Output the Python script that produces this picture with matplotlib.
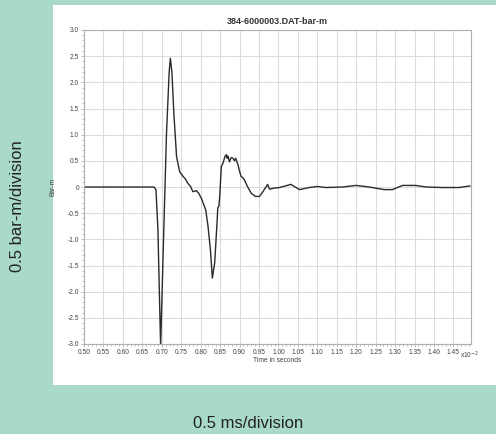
import numpy as np
import matplotlib.pyplot as plt
from matplotlib.patches import Rectangle
from matplotlib.ticker import MultipleLocator, FuncFormatter

plt.rcParams['font.family'] = ['Liberation Sans', 'DejaVu Sans']

# time in units of 1e-2 s, pressure in bar-m
t = [0.50, 0.60, 0.68, 0.685, 0.690, 0.697, 0.703, 0.712, 0.719, 0.722, 0.726, 0.731,
     0.738, 0.746, 0.755, 0.761, 0.767, 0.774, 0.780, 0.789, 0.795, 0.802, 0.813,
     0.819, 0.825, 0.830, 0.836, 0.842, 0.844, 0.847, 0.849, 0.853, 0.857, 0.860,
     0.862, 0.866, 0.868, 0.870, 0.874, 0.878, 0.883, 0.887, 0.890, 0.896, 0.900,
     0.904, 0.908, 0.913, 0.917, 0.921, 0.930, 0.941, 0.951, 0.960, 0.965, 0.968,
     0.972, 0.977, 0.990, 1.003, 1.032, 1.054, 1.079, 1.100, 1.122, 1.165, 1.199,
     1.233, 1.272, 1.293, 1.319, 1.353, 1.379, 1.421, 1.464, 1.492]
p = [0.0, 0.0, 0.0, -0.05, -0.8, -3.05, -1.4, 1.0, 2.2, 2.46, 2.2, 1.41,
     0.58, 0.29, 0.20, 0.15, 0.07, 0.01, -0.09, -0.07, -0.12, -0.22, -0.44,
     -0.76, -1.20, -1.74, -1.45, -0.69, -0.40, -0.36, -0.18, 0.39, 0.45, 0.52,
     0.58, 0.62, 0.55, 0.59, 0.48, 0.56, 0.55, 0.50, 0.55, 0.42, 0.30,
     0.20, 0.18, 0.13, 0.06, 0.0, -0.12, -0.18, -0.18, -0.09, -0.03, 0.0,
     0.05, -0.04, -0.02, -0.01, 0.05, -0.05, -0.01, 0.01, -0.01, 0.0, 0.03,
     0.0, -0.05, -0.05, 0.03, 0.03, 0.0, -0.01, -0.01, 0.02]

title = "384-6000003.DAT-bar-m"
bg = "#a9d9c8"

fig = plt.figure(figsize=(4.96, 4.34), dpi=100, facecolor=bg)
# white panel behind the chart
panel = fig.add_axes([53 / 496, 49 / 434, 1 - 53 / 496, 380 / 434], zorder=-10)
panel.set_axis_off()
panel.add_patch(Rectangle((0, 0), 1, 1, transform=panel.transAxes,
                          facecolor="white", edgecolor="none"))

ax = fig.add_axes([84 / 496, 90 / 434, 387 / 496, 314 / 434])
ax.plot(t, p, color="#2a2a2a", lw=1.0)
ax.set_xlim(0.50, 1.495)
ax.set_ylim(-3.0, 3.0)
ax.set_xticks(np.arange(0.50, 1.46, 0.05))
ax.set_yticks(np.arange(-3.0, 3.01, 0.5))
ax.xaxis.set_minor_locator(MultipleLocator(0.01))
ax.yaxis.set_minor_locator(MultipleLocator(0.1))
ax.xaxis.set_major_formatter(FuncFormatter(lambda v, _: f"{v:.2f}"))
ax.yaxis.set_major_formatter(FuncFormatter(lambda v, _: "0" if abs(v) < 1e-9 else f"{v:.1f}"))
ax.grid(True, which="major", color="#dcdcdc", lw=0.8)
ax.set_axisbelow(True)
for s in ax.spines.values():
    s.set_color("#b0b0b0")
ax.tick_params(which="both", labelsize=4.8, colors="#b0b0b0", labelcolor="#444444",
               length=2, width=0.6, pad=1.5)
ax.tick_params(which="minor", length=1.2)

ax.set_title(title, fontsize=6.5, fontweight="bold", color="#333333", pad=4)
ax.set_ylabel("Bar-m", fontsize=4.8, color="#444444", labelpad=8)
ax.set_xlabel("Time in seconds", fontsize=4.8, color="#444444", labelpad=1)
fig.text(470 / 496, 1 - 355 / 434, r"x10$^{-2}$", fontsize=4.8, color="#444444",
         ha="center", va="center")

fig.text(18 / 496, 1 - 206 / 434, "0.5 bar-m/division", rotation=90, fontsize=12,
         color="#222222", ha="center", va="center")
fig.text(248 / 496, 1 - 423 / 434, "0.5 ms/division", fontsize=12,
         color="#222222", ha="center", va="center")

fig.savefig("out.png", dpi=100, facecolor=bg)
